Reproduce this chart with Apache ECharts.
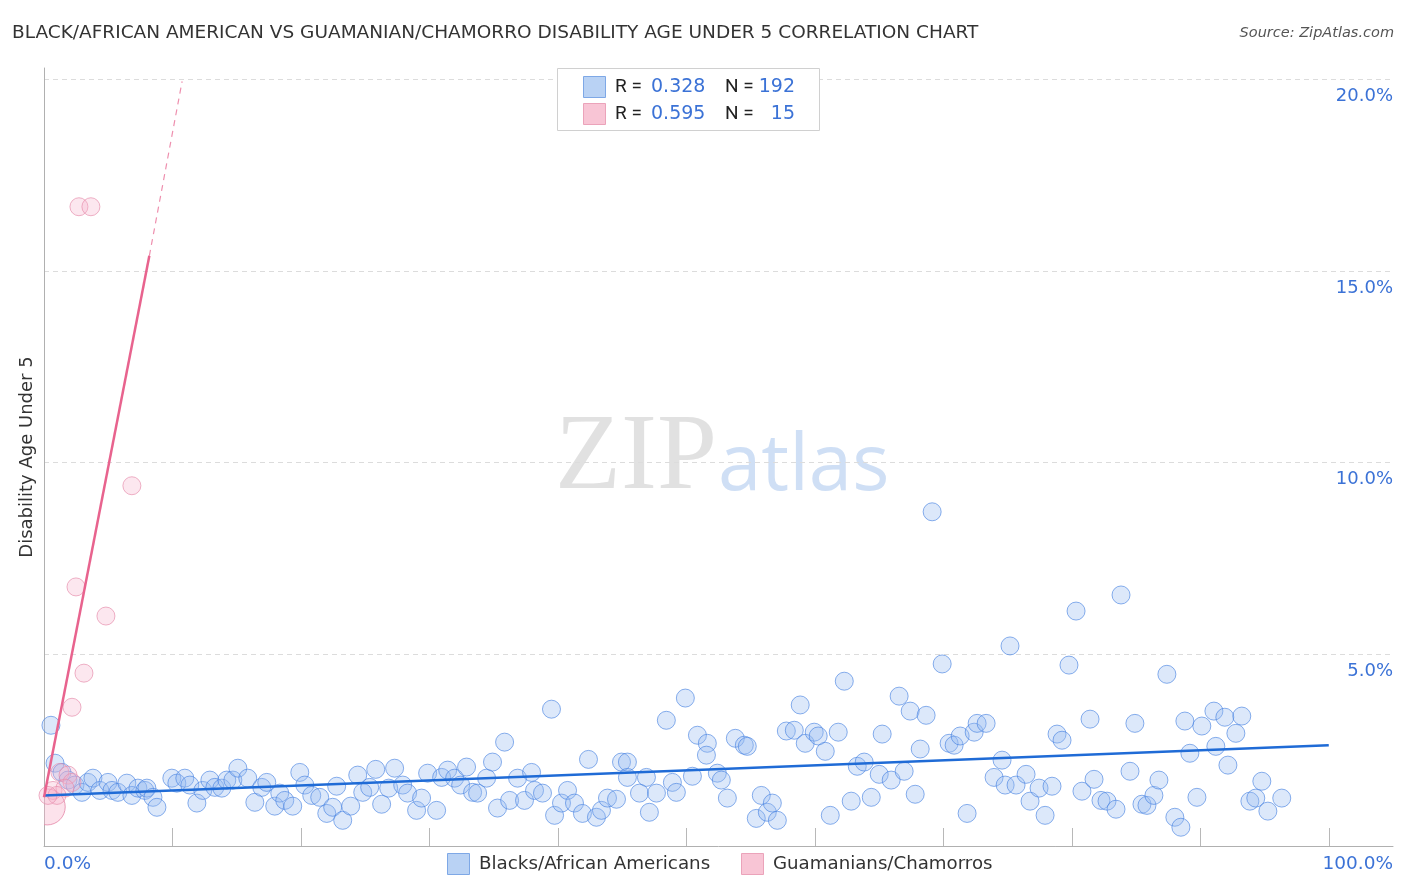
<!DOCTYPE html>
<html><head><meta charset="utf-8">
<script src="https://cdn.jsdelivr.net/npm/echarts@6/dist/echarts.min.js"></script>
<style>html,body{margin:0;padding:0;background:#fff}#c{width:1406px;height:892px}</style>
</head><body><div id="c"></div><script>
const titleText = 'BLACK/AFRICAN AMERICAN VS GUAMANIAN/CHAMORRO DISABILITY AGE UNDER 5 CORRELATION CHART';
const sourceText = 'Source: ZipAtlas.com';
const yAxisName = 'Disability Age Under 5';
const seriesNames = ['Blacks/African Americans', 'Guamanians/Chamorros'];
const rValues = ['0.328', '0.595'];
const nValues = ['192', '15'];
const yTickValues = [5, 10, 15, 20];
const xTickValues = [10, 20, 30, 40, 50, 60, 70, 80, 90, 100];
const xEdgeLabels = ['0.0%', '100.0%'];

const blackPoints = [
[0.54,3.15],[0.86,2.16],[1.40,1.92],[1.87,1.72],[2.41,1.59],[2.95,1.40],[3.42,1.66],[3.81,1.77],[4.35,1.45],[4.98,1.66],
[5.29,1.45],[5.75,1.40],[6.45,1.64],[6.84,1.32],[7.31,1.51],[7.85,1.45],[8.01,1.51],[8.48,1.27],[8.79,1.01],[9.95,1.77],
[10.34,1.64],[10.96,1.77],[11.35,1.59],[11.90,1.12],[12.36,1.45],[12.91,1.72],[13.30,1.53],[13.84,1.51],[14.23,1.72],[14.70,1.72],
[15.09,2.03],[15.86,1.77],[16.41,1.14],[16.95,1.53],[17.34,1.66],[17.96,1.04],[18.35,1.38],[18.74,1.19],[19.36,1.04],[19.91,1.92],
[20.30,1.59],[20.84,1.32],[21.46,1.27],[22.01,0.85],[22.47,1.01],[22.78,1.56],[23.25,0.67],[23.87,1.04],[24.42,1.85],[24.81,1.40],
[25.35,1.53],[25.82,2.00],[26.28,1.09],[26.83,1.51],[27.29,2.03],[27.92,1.59],[28.30,1.38],[29.00,0.93],[29.39,1.25],[29.86,1.90],
[30.56,0.93],[30.95,1.79],[31.42,1.98],[31.96,1.77],[32.43,1.59],[32.89,2.06],[33.36,1.40],[33.75,1.38],[34.45,1.77],[34.91,2.19],
[35.30,0.99],[35.85,2.71],[36.24,1.19],[36.86,1.77],[37.40,1.19],[37.95,1.92],[38.18,1.45],[38.80,1.38],[39.50,3.57],[39.74,0.80],
[40.28,1.12],[40.75,1.45],[41.29,1.12],[41.91,0.85],[42.38,2.26],[43.00,0.75],[43.39,0.93],[43.86,1.25],[44.56,1.22],[44.95,2.19],
[45.41,2.19],[45.41,1.79],[46.89,1.79],[46.35,1.38],[47.67,1.38],[47.12,0.88],[48.44,3.28],[48.91,1.66],[49.22,1.40],[49.92,3.86],
[50.47,1.82],[50.86,2.89],[51.63,2.68],[51.56,2.37],[52.41,1.90],[52.72,1.72],[53.19,1.25],[53.81,2.81],[54.51,2.63],[54.74,2.60],
[55.83,1.32],[55.44,0.72],[56.30,0.88],[56.69,1.12],[57.08,0.67],[57.78,3.00],[58.40,3.02],[58.86,3.68],[59.25,2.68],[59.95,2.97],
[60.26,2.87],[60.81,2.47],[61.20,0.80],[61.82,2.97],[62.29,4.30],[62.83,1.17],[63.30,2.08],[63.84,2.19],[64.39,1.27],[65.01,1.87],
[65.24,2.92],[65.94,1.72],[66.56,3.91],[66.95,1.95],[67.42,3.52],[67.81,1.35],[68.20,2.53],[68.66,3.41],[69.13,8.72],[69.91,4.75],
[70.45,2.68],[70.84,2.63],[71.31,2.87],[71.85,0.85],[72.40,2.97],[72.63,3.20],[73.33,3.20],[73.95,1.79],[74.57,2.24],[74.81,1.59],
[75.19,5.22],[75.66,1.59],[76.44,1.87],[76.75,1.17],[77.45,1.51],[77.92,0.80],[78.46,1.56],[78.85,2.92],[79.24,2.76],[79.78,4.72],
[80.33,6.13],[80.79,1.43],[81.42,3.31],[81.73,1.74],[82.27,1.19],[82.74,1.17],[83.44,0.96],[83.83,6.55],[84.53,1.95],[84.91,3.20],
[85.46,1.09],[85.85,1.06],[86.39,1.32],[86.78,1.72],[87.40,4.48],[88.02,0.75],[88.49,0.49],[88.80,3.26],[89.19,2.42],[89.74,1.27],
[90.12,3.13],[91.06,3.52],[91.21,2.60],[91.91,3.36],[92.15,2.11],[92.77,2.94],[93.23,3.39],[93.86,1.17],[94.32,1.25],[94.79,1.69],
[95.26,0.91],[96.34,1.25]
];
const guamPoints = [
[2.72,16.68],[3.65,16.68],[6.84,9.40],[2.49,6.76],[4.82,6.00],[3.11,4.51],[2.18,3.62],[0.70,1.45],[1.24,1.92],[1.87,1.85],
[2.18,1.66],[1.63,1.51],[1.01,1.32],[0.31,1.32]
];
const guamLargePoints = [[0.25,1.02]];
const blackTrend = [[0, 1.32], [100, 2.63]];
const guamTrendSolid = [[0, 1.27], [8.2, 15.4]];
const guamTrendDashed = [[8.2, 15.4], [10.75, 19.95]];

const FONT = 'DejaVu Sans';
const FONT2 = 'Roboto';
const BLUE_TXT = '#3b72d6';
const blueFill = 'rgba(150,188,240,0.42)';
const blueStroke = 'rgba(70,130,225,0.8)';
const pinkFill = 'rgba(246,178,202,0.38)';
const pinkStroke = 'rgba(230,140,172,0.85)';

const chart = echarts.init(document.getElementById('c'), null, {renderer: 'canvas'});
const yMax = 20.3;
const option = {
  animation: false,
  backgroundColor: '#fff',
  grid: {left: 44, right: 13, top: 68, bottom: 46},
  xAxis: {
    type: 'value', min: 0, max: 105, interval: 10,
    axisLine: {show: true, lineStyle: {color: '#b0b0b0', width: 1}},
    axisTick: {show: true, inside: true, length: 18, customValues: xTickValues, lineStyle: {color: '#b8b8b8'}},
    axisLabel: {show: false},
    splitLine: {show: false}
  },
  yAxis: [{
    type: 'value', min: 0, max: yMax, interval: 5, position: 'left',
    name: yAxisName, nameLocation: 'middle', nameGap: 8, nameRotate: 90,
    nameTextStyle: {fontFamily: FONT, fontSize: 18, color: '#333'},
    axisLine: {show: true, lineStyle: {color: '#b0b0b0'}},
    axisTick: {show: false}, axisLabel: {show: false},
    splitLine: {show: true, showMinLine: false, showMaxLine: false, lineStyle: {color: '#dcdcdc', type: [5, 4], width: 1}}
  }, {
    type: 'value', min: 0, max: yMax, interval: 5, position: 'right',
    axisLine: {show: false}, axisTick: {show: false}, splitLine: {show: false},
    axisLabel: {
      show: true, inside: true, customValues: yTickValues, margin: 0,
      align: 'right', verticalAlign: 'top', padding: [8, 0, 0, 0],
      fontFamily: FONT, fontSize: 18, color: BLUE_TXT,
      formatter: v => v.toFixed(1) + '%'
    }
  }],
  series: [
    {name: seriesNames[0], type: 'scatter', data: blackPoints, symbolSize: 18, z: 3,
     itemStyle: {color: blueFill, borderColor: blueStroke, borderWidth: 1}},
    {name: seriesNames[1], type: 'scatter', data: guamPoints, symbolSize: 18, z: 3,
     itemStyle: {color: pinkFill, borderColor: pinkStroke, borderWidth: 1}},
    {name: seriesNames[1] + ' (weighted)', type: 'custom', data: guamLargePoints, clip: true, z: 3,
     renderItem: (params, api) => {
       const p = api.coord([api.value(0), api.value(1)]);
       return {type: 'circle', shape: {cx: p[0], cy: p[1], r: 18},
               style: {fill: pinkFill, stroke: pinkStroke, lineWidth: 1}};
     }},
    {type: 'line', data: blackTrend, symbol: 'none', z: 5, silent: true,
     lineStyle: {color: '#1f6bd6', width: 2.5}},
    {type: 'line', data: guamTrendSolid, symbol: 'none', z: 5, silent: true,
     lineStyle: {color: '#e8638e', width: 2.5}},
    {type: 'line', data: guamTrendDashed, symbol: 'none', z: 5, silent: true,
     lineStyle: {color: '#ee8fae', width: 1.2, type: [6, 5]}}
  ],
  graphic: [
    {type: 'text', x: 12, y: 33, z: 10, style: {text: titleText, fontFamily: FONT, fontSize: 18.5, fill: '#333', verticalAlign: 'middle'}},
    {type: 'text', x: 1394, y: 33, z: 10, style: {text: sourceText, fontFamily: FONT, fontSize: 14.5, fontStyle: 'italic', fill: '#555', align: 'right', verticalAlign: 'middle'}},
    {type: 'text', x: 44, y: 864, z: 10, style: {text: xEdgeLabels[0], fontFamily: FONT, fontSize: 18.5, fill: BLUE_TXT, align: 'left', verticalAlign: 'middle'}},
    {type: 'text', x: 1393, y: 864, z: 10, style: {text: xEdgeLabels[1], fontFamily: FONT, fontSize: 18.5, fill: BLUE_TXT, align: 'right', verticalAlign: 'middle'}},
    // watermark
    {type: 'text', x: 555, y: 406, z: 0, silent: true, style: {text: 'ZIP', fontFamily: 'Liberation Serif', fontSize: 108, fill: 'rgba(200,200,200,0.55)', verticalAlign: 'top'}},
    {type: 'text', x: 718, y: 429, z: 0, silent: true, style: {text: 'atlas', fontFamily: 'Open Sans', fontSize: 78, fill: 'rgba(160,192,236,0.5)', verticalAlign: 'top'}},
    // top legend
    {type: 'rect', z: 10, shape: {x: 557.5, y: 68.5, width: 262, height: 62}, style: {fill: '#fff', stroke: '#d0d0d0', lineWidth: 1}},
    {type: 'rect', z: 11, shape: {x: 583.5, y: 76.5, width: 22, height: 21}, style: {fill: '#b9d2f4', stroke: '#7ea8e6', lineWidth: 1}},
    {type: 'rect', z: 11, shape: {x: 583.5, y: 103.5, width: 22, height: 21}, style: {fill: '#f8c5d5', stroke: '#eba3ba', lineWidth: 1}},
    {type: 'text', z: 11, x: 615, y: 87, style: {text: 'R =', fontFamily: FONT2, fontSize: 19, fill: '#222', verticalAlign: 'middle'}},
    {type: 'text', z: 11, x: 651, y: 87, style: {text: rValues[0], fontFamily: FONT, fontSize: 19, fill: BLUE_TXT, verticalAlign: 'middle'}},
    {type: 'text', z: 11, x: 725, y: 87, style: {text: 'N =', fontFamily: FONT2, fontSize: 19, fill: '#222', verticalAlign: 'middle'}},
    {type: 'text', z: 11, x: 795, y: 87, style: {text: nValues[0], fontFamily: FONT, fontSize: 19, fill: BLUE_TXT, align: 'right', verticalAlign: 'middle'}},
    {type: 'text', z: 11, x: 615, y: 114, style: {text: 'R =', fontFamily: FONT2, fontSize: 19, fill: '#222', verticalAlign: 'middle'}},
    {type: 'text', z: 11, x: 651, y: 114, style: {text: rValues[1], fontFamily: FONT, fontSize: 19, fill: BLUE_TXT, verticalAlign: 'middle'}},
    {type: 'text', z: 11, x: 725, y: 114, style: {text: 'N =', fontFamily: FONT2, fontSize: 19, fill: '#222', verticalAlign: 'middle'}},
    {type: 'text', z: 11, x: 795, y: 114, style: {text: nValues[1], fontFamily: FONT, fontSize: 19, fill: BLUE_TXT, align: 'right', verticalAlign: 'middle'}},
    // bottom legend
    {type: 'rect', z: 11, shape: {x: 447.5, y: 853.5, width: 22, height: 21}, style: {fill: '#b9d2f4', stroke: '#7ea8e6', lineWidth: 1}},
    {type: 'text', z: 11, x: 479, y: 864, style: {text: seriesNames[0], fontFamily: FONT, fontSize: 18.3, fill: '#333', verticalAlign: 'middle'}},
    {type: 'rect', z: 11, shape: {x: 741.5, y: 853.5, width: 22, height: 21}, style: {fill: '#f8c5d5', stroke: '#eba3ba', lineWidth: 1}},
    {type: 'text', z: 11, x: 773, y: 864, style: {text: seriesNames[1], fontFamily: FONT, fontSize: 18.2, fill: '#333', verticalAlign: 'middle'}}
  ]
};
chart.setOption(option);
</script></body></html>
